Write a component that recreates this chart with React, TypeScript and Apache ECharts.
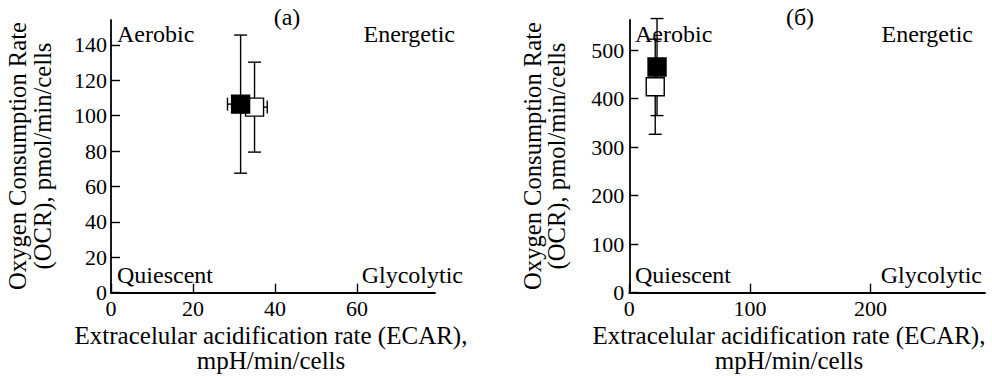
import React, { useEffect, useRef } from "react";
import * as echarts from "echarts";

const panelTitles = ["(a)", "(б)"];
const quadrantLabels = ["Aerobic", "Energetic", "Quiescent", "Glycolytic"];
const yAxisNameLines = ["Oxygen Consumption Rate", "(OCR), pmol/min/cells"];
const xAxisNameLines = ["Extracelular acidification rate (ECAR),", "mpH/min/cells"];

// Panel (a)
const aXTicks = [0, 20, 40, 60];
const aYTicks = [0, 20, 40, 60, 80, 100, 120, 140];
const aXMax = 79;
const aYMax = 154;
// [x, y, xErr, yErr]
const aBlack = [31.6, 106.5, 3.2, 39];
const aWhite = [35, 104.8, 3.1, 25.4];

// Panel (б)
const bXTicks = [0, 100, 200];
const bYTicks = [0, 100, 200, 300, 400, 500];
const bXMax = 295;
const bYMax = 562;
const bBlack = [23, 465, 3, 100];
const bWhite = [21.5, 424.5, 3, 98];

const FONT = "Liberation Serif";

function errorBarRender(params: any, api: any) {
  const x = api.value(0);
  const y = api.value(1);
  const xe = api.value(2);
  const ye = api.value(3);
  const t = api.coord([x, y + ye]);
  const b = api.coord([x, y - ye]);
  const l = api.coord([x - xe, y]);
  const r = api.coord([x + xe, y]);
  const cap = 6.5;
  const style = { stroke: "#000", lineWidth: 1.4, fill: "none" };
  return {
    type: "group",
    children: [
      { type: "line", shape: { x1: t[0], y1: t[1], x2: b[0], y2: b[1] }, style },
      { type: "line", shape: { x1: t[0] - cap, y1: t[1], x2: t[0] + cap, y2: t[1] }, style },
      { type: "line", shape: { x1: b[0] - cap, y1: b[1], x2: b[0] + cap, y2: b[1] }, style },
      { type: "line", shape: { x1: l[0], y1: l[1], x2: r[0], y2: r[1] }, style },
      { type: "line", shape: { x1: l[0], y1: l[1] - cap, x2: l[0], y2: l[1] + cap }, style },
      { type: "line", shape: { x1: r[0], y1: r[1] - cap, x2: r[0], y2: r[1] + cap }, style },
    ],
  };
}

function makeAxis(ticks: number[], max: number, margin: number) {
  return {
    type: "value",
    min: 0,
    max,
    splitLine: { show: false },
    axisLine: { show: true, onZero: false, lineStyle: { color: "#000", width: 1.8 } },
    axisTick: {
      show: true,
      inside: true,
      length: 9,
      customValues: ticks,
      lineStyle: { color: "#000", width: 1.4 },
    },
    axisLabel: {
      show: true,
      customValues: ticks,
      color: "#000",
      fontFamily: FONT,
      fontSize: 22,
      margin,
    },
  };
}

function text(x: number, y: number, t: string, align: string, size: number, extra: any = {}) {
  return {
    type: "text",
    x,
    y,
    ...extra,
    style: {
      text: t,
      fill: "#000",
      font: `${size}px "${FONT}"`,
      textAlign: align,
      textVerticalAlign: "middle",
    },
  };
}

function panelGraphics(o: {
  title: string;
  titleX: number;
  aerobicX: number;
  energeticX: number;
  glycolyticX: number;
  yName1X: number;
  yName2X: number;
  xNameX: number;
}) {
  const rot = { rotation: Math.PI / 2 };
  return [
    text(o.titleX, 17, o.title, "center", 24),
    text(o.aerobicX, 34, quadrantLabels[0], "left", 24),
    text(o.energeticX, 34, quadrantLabels[1], "right", 24),
    text(o.aerobicX, 275, quadrantLabels[2], "left", 24),
    text(o.glycolyticX, 275, quadrantLabels[3], "right", 24),
    text(o.yName1X, 156, yAxisNameLines[0], "center", 24.6, rot),
    text(o.yName2X, 156, yAxisNameLines[1], "center", 24.6, rot),
    text(o.xNameX, 335, xAxisNameLines[0], "center", 25),
    text(o.xNameX, 360, xAxisNameLines[1], "center", 25),
  ];
}

function squareSeries(idx: number, point: number[], fill: string, z: number) {
  return {
    type: "scatter",
    xAxisIndex: idx,
    yAxisIndex: idx,
    symbol: "rect",
    symbolSize: 18,
    z,
    itemStyle: { color: fill, borderColor: "#000", borderWidth: 1.4, opacity: 1 },
    data: [[point[0], point[1]]],
  };
}

function errorSeries(idx: number, points: number[][]) {
  return {
    type: "custom",
    xAxisIndex: idx,
    yAxisIndex: idx,
    z: 1,
    clip: false,
    renderItem: errorBarRender,
    encode: { x: 0, y: 1 },
    data: points,
  };
}

export default function App() {
  const ref = useRef<HTMLDivElement>(null);
  useEffect(() => {
    if (!ref.current) return;
    const chart = echarts.init(ref.current, undefined, { renderer: "svg" });
    chart.setOption({
      animation: false,
      backgroundColor: "#fff",
      grid: [
        { left: 111, top: 20, width: 324, bottom: 83.3, containLabel: false },
        { left: 629.3, top: 20, width: 355.7, bottom: 83.3, containLabel: false },
      ],
      xAxis: [
        { gridIndex: 0, ...makeAxis(aXTicks, aXMax, 5) },
        { gridIndex: 1, ...makeAxis(bXTicks, bXMax, 5) },
      ],
      yAxis: [
        { gridIndex: 0, ...makeAxis(aYTicks, aYMax, 4) },
        { gridIndex: 1, ...makeAxis(bYTicks, bYMax, 5) },
      ],
      series: [
        errorSeries(0, [aBlack, aWhite]),
        squareSeries(0, aWhite, "#fff", 2),
        squareSeries(0, aBlack, "#000", 3),
        errorSeries(1, [bBlack, bWhite]),
        squareSeries(1, bWhite, "#fff", 2),
        squareSeries(1, bBlack, "#000", 3),
      ],
      graphic: [
        ...panelGraphics({
          title: panelTitles[0],
          titleX: 287,
          aerobicX: 117,
          energeticX: 455,
          glycolyticX: 463,
          yName1X: 17.7,
          yName2X: 42.3,
          xNameX: 271,
        }),
        ...panelGraphics({
          title: panelTitles[1],
          titleX: 800,
          aerobicX: 635,
          energeticX: 973,
          glycolyticX: 982,
          yName1X: 532,
          yName2X: 556.6,
          xNameX: 789,
        }),
      ],
    });
    return () => chart.dispose();
  }, []);
  return (
    <div
      ref={ref}
      style={{ position: "fixed", left: 0, top: 0, width: 992, height: 376, background: "#fff" }}
    />
  );
}
